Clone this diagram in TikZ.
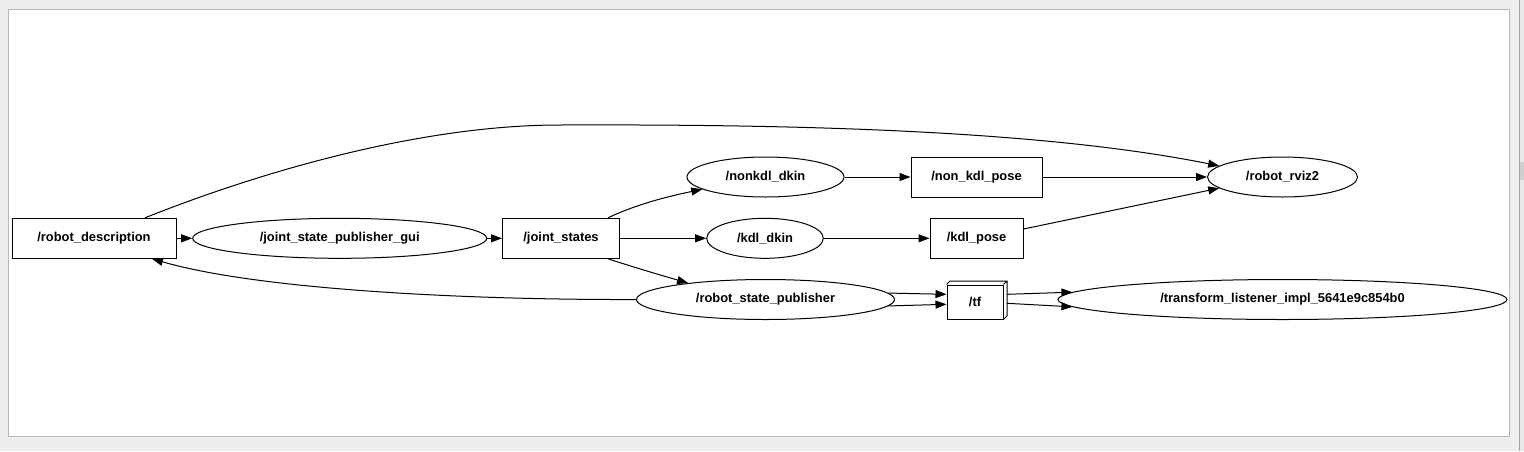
\documentclass[tikz,border=0pt]{standalone}
\usepackage{fontspec}
\setmainfont{Liberation Sans}
\usetikzlibrary{arrows.meta,shapes.geometric,calc}
\definecolor{bgc}{HTML}{EEEEEE}
\definecolor{panelb}{HTML}{B8B8B8}
\definecolor{sbline}{HTML}{A4A4A4}
\definecolor{sbfill}{HTML}{E8E8E8}
\definecolor{sbthumb}{HTML}{CFCFCF}
\begin{document}
\begin{tikzpicture}[x=1pt,y=-1pt,
  every node/.style={font=\fontsize{12.9}{15}\selectfont\bfseries, text=black},
  topicbox/.style={draw, line width=1pt, rectangle, inner sep=0pt, minimum height=40pt},
  nodeell/.style={draw, line width=1pt, ellipse, inner sep=0pt, minimum height=40pt},
  conn/.style={draw, line width=1pt, -{Triangle[length=11pt,width=8pt]}}]
% window background
\useasboundingbox (0,0) rectangle (1524,451);
\fill[bgc] (0,0) rectangle (1524,451);
\draw[panelb, fill=white, line width=1pt] (8.5,9.5) rectangle (1509.5,436.5);
\fill[sbfill] (1519.5,0) rectangle (1524,451);
\fill[sbthumb] (1520,161.5) rectangle (1524,180);
\draw[sbline, line width=1pt] (1519.5,0) -- (1519.5,451);
% nodes
\node[topicbox, minimum width=164pt] (rd) at (94,238.3) {/robot\_description};
\node[nodeell, minimum width=294pt] (jspg) at (339.7,238.3) {/joint\_state\_publisher\_gui};
\node[topicbox, minimum width=117pt] (js) at (561,238.3) {/joint\_states};
\node[nodeell, minimum width=157pt] (nk) at (765.5,177) {/nonkdl\_dkin};
\node[nodeell, minimum width=116.6pt] (kd) at (765,238.3) {/kdl\_dkin};
\node[nodeell, minimum width=258pt] (rsp) at (765.5,299.5) {/robot\_state\_publisher};
\node[topicbox, minimum width=131pt] (nkp) at (976.5,177) {/non\_kdl\_pose};
\node[topicbox, minimum width=93pt] (kp) at (976.5,238.3) {/kdl\_pose};
\node[topicbox, minimum width=56pt, minimum height=34pt] (tf) at (975,302) {/tf};
\draw[line width=1pt] (tf.north west) -- ++(3.5,-3.5) -- ($(tf.north east)+(3.5,-3.5)$) -- ($(tf.south east)+(3.5,-3.5)$) -- (tf.south east)
  (tf.north east) -- ++(3.5,-3.5);
\node[nodeell, minimum width=150pt] (rv) at (1282.5,177) {/robot\_rviz2};
\node[nodeell, minimum width=449pt] (tl) at (1282.5,299.5) {/transform\_listener\_impl\_5641e9c854b0};
% connectors
\path[conn] (rd) -- (jspg);
\path[conn] (jspg) -- (js);
\path[conn] (js) -- (kd);
\path[conn] (nk) -- (nkp);
\path[conn] (nkp) -- (rv);
\path[conn] (kd) -- (kp);
\path[conn] ([yshift=9.3pt]kp.east) -- (rv.190);
\path[conn] ([xshift=51pt]rd.north) .. controls (260,172) and (420,125) .. (560,125)
  .. controls (820,124) and (1050,132) .. (rv.170);
\path[conn] (rsp.west) .. controls (470,300) and (260,290) .. ([xshift=58pt]rd.south);
\path[conn] ([xshift=47pt]js.north) .. controls (635,205) and (665,197) .. (nk.191);
\path[conn] ([xshift=47pt]js.south) .. controls (630,266) and (660,275) .. (rsp.168);
\path[conn] (rsp.3.5) -- ([yshift=7.7pt]tf.west);
\path[conn] (rsp.-3) -- ([yshift=-2.3pt]tf.west);
\path[conn] ([xshift=3.5pt,yshift=7.7pt]tf.east) -- (tl.178);
\path[conn] ([xshift=3.5pt,yshift=-1.3pt]tf.east) -- (tl.182);
\end{tikzpicture}
\end{document}
